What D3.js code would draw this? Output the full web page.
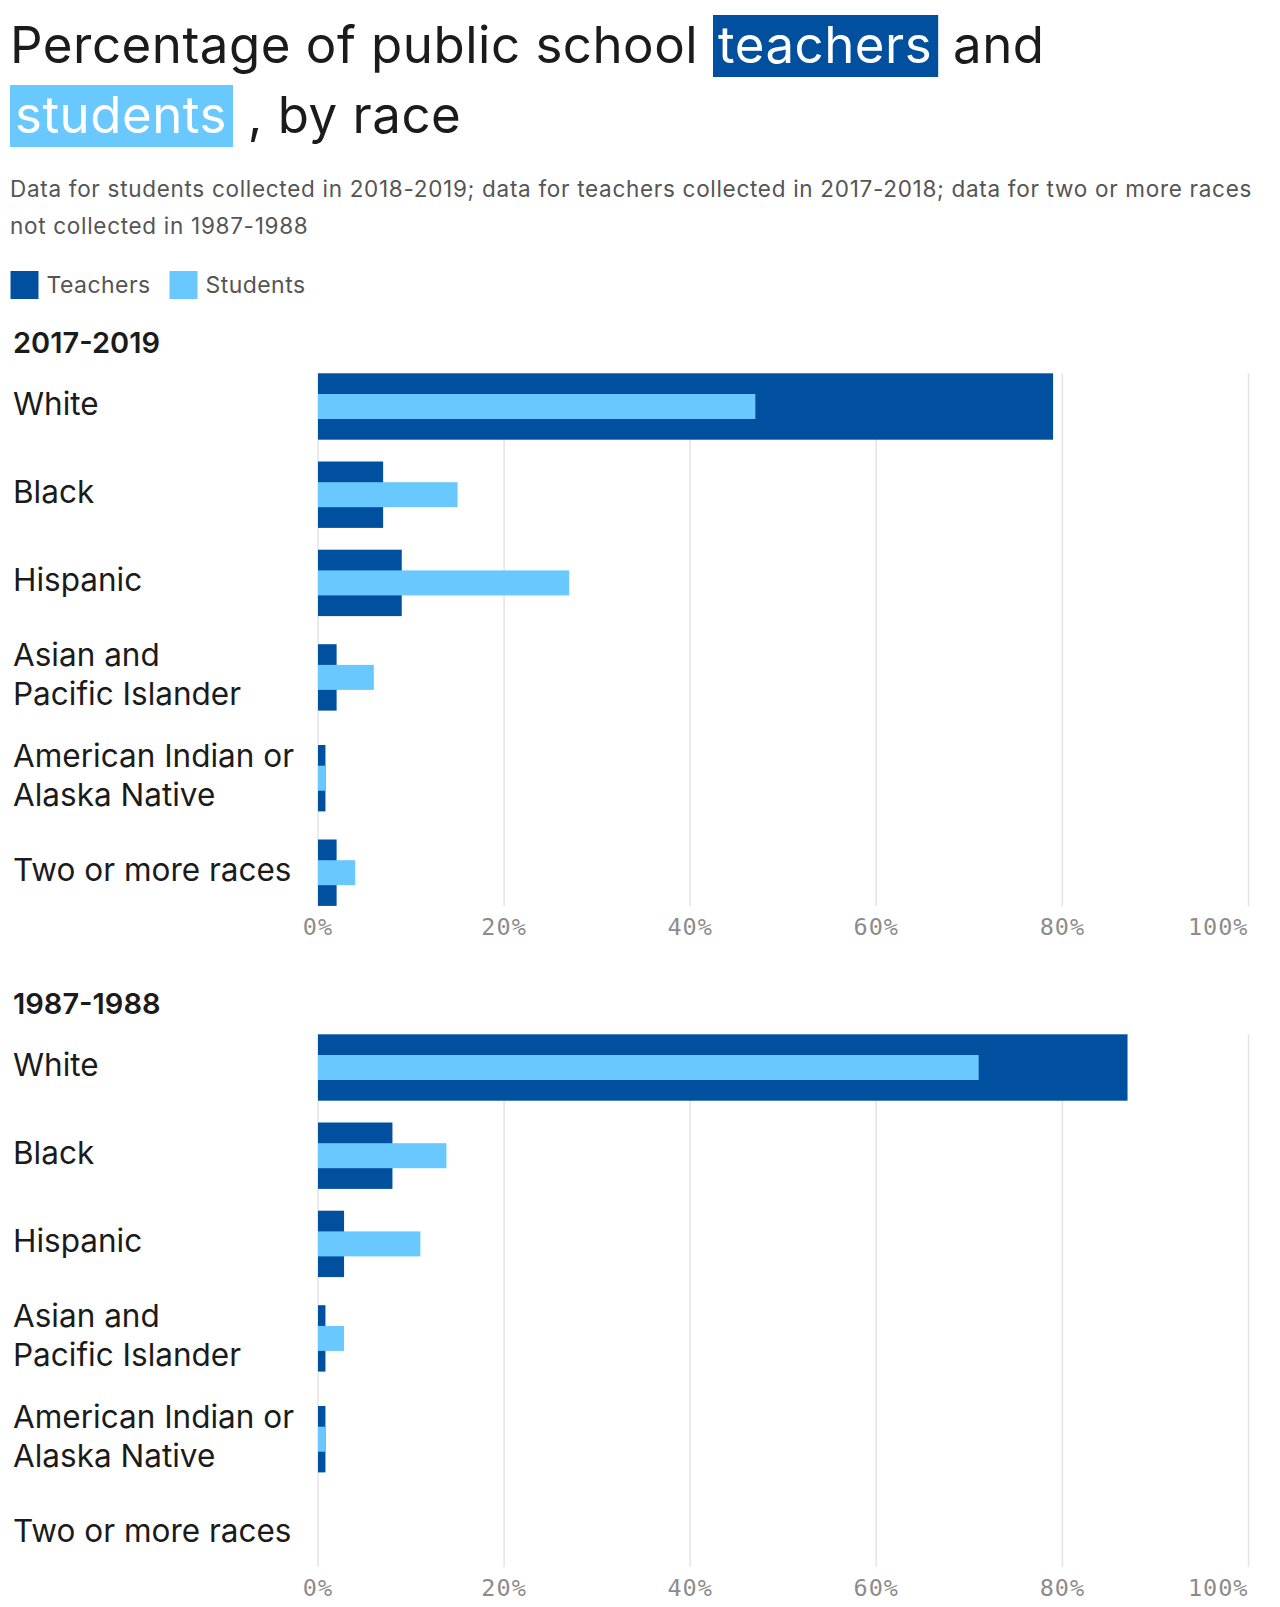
<!DOCTYPE html>
<html><head><meta charset="utf-8">
<script src="https://cdn.jsdelivr.net/npm/d3@7"></script>
<style>body{margin:0;background:#fff}</style>
</head><body><svg id="c" width="1280" height="1607"></svg>
<script>
// ---------- data ----------
const categories = ["White","Black","Hispanic","Asian and Pacific Islander","American Indian or Alaska Native","Two or more races"];
const labelLines = [["White"],["Black"],["Hispanic"],["Asian and","Pacific Islander"],["American Indian or","Alaska Native"],["Two or more races"]];
const panelTitles = ["2017-2019","1987-1988"];
const teachers2017 = [79, 7, 9, 2, 0.8, 2];
const students2018 = [47, 15, 27, 6, 0.8, 4];
const teachers1987 = [87, 8, 2.8, 0.8, 0.8, null];
const students1987 = [71, 13.8, 11, 2.8, 0.8, null];
const tickValues = [0, 20, 40, 60, 80, 100];
const seriesNames = ["Teachers","Students"];
const titleLine1 = ["Percentage of public school ", "teachers", " and"];
const titleLine2 = ["students", " , by race"];
const subtitleLines = ["Data for students collected in 2018-2019; data for teachers collected in 2017-2018; data for two or more races","not collected in 1987-1988"];

// ---------- style ----------
const FONT = "Inter, 'Noto Sans', sans-serif";
const MONO = "'DejaVu Sans Mono', monospace";
const color = d3.scaleOrdinal().domain(seriesNames).range(["#0150a0","#69c8fd"]);
const svg = d3.select("#c");

// ---------- title ----------
function titleLine(y, parts, hl) {
  let x = 10;
  parts.forEach((p, i) => {
    const isHL = hl[i];
    const padL = 5, padR = 6;
    if (isHL) x += padL;
    const t = svg.append("text").attr("x", x).attr("y", y)
      .attr("font-family", FONT).attr("font-size", 51).attr("font-weight", 400)
      .attr("letter-spacing", 0.5)
      .attr("fill", isHL ? "#fff" : "#1b1b1b").style("white-space","pre").text(p);
    const w = t.node().getComputedTextLength();
    if (isHL) {
      svg.insert("rect", () => t.node())
        .attr("x", x - padL).attr("y", y - 48).attr("width", w + padL + padR).attr("height", 62)
        .attr("fill", color(isHL));
      x += w + padR;
    } else x += w;
  });
}
titleLine(63, titleLine1, [null, "Teachers", null]);
titleLine(133, titleLine2, ["Students", null]);

subtitleLines.forEach((s, i) => {
  svg.append("text").attr("x", 10).attr("y", 197 + i * 37)
    .attr("font-family", FONT).attr("font-size", 22.5).attr("letter-spacing", 0.7)
    .attr("fill", "#555").text(s);
});

// ---------- legend ----------
const legX = d3.scaleOrdinal().domain(seriesNames).range([10.5, 169.5]);
const leg = svg.selectAll("g.leg").data(seriesNames).join("g").attr("class","leg")
  .attr("transform", d => `translate(${legX(d)},271)`);
leg.append("rect").attr("width", 28).attr("height", 28).attr("fill", d => color(d));
leg.append("text").attr("x", 36).attr("y", 22).attr("font-family", FONT)
  .attr("font-size", 23).attr("letter-spacing", 0.45).attr("fill", "#555").text(d => d);

// ---------- panels ----------
const x = d3.scaleLinear().domain([0, 100]).range([318, 1248.5]);
const barH = 66.4, studH = 25, lineH = 39, gap = 21.8;

function panel(y0, title, teach, stud) {
  const tops = [];
  let cur = y0;
  labelLines.forEach(lines => {
    const lh = lines.length > 1 ? lines.length * lineH + 1 : 0;
    const rowH = Math.max(barH, lh);
    tops.push(cur + (rowH - barH) / 2);
    cur += rowH + gap;
  });
  const y = d3.scaleOrdinal().domain(categories).range(tops);
  const bottom = y0 + 532.7;

  const g = svg.append("g");
  g.append("text").attr("x", 13).attr("y", y0 - 20).attr("font-family", FONT)
    .attr("font-size", 29).attr("font-weight", 600).attr("fill", "#1b1b1b").text(title);

  g.selectAll("line.grid").data(tickValues).join("line").attr("class","grid")
    .attr("x1", d => x(d)).attr("x2", d => x(d)).attr("y1", y0).attr("y2", bottom)
    .attr("stroke", "#e3e3e8").attr("stroke-width", 1.5);

  g.selectAll("text.tick").data(tickValues).join("text").attr("class","tick")
    .attr("x", d => x(d)).attr("y", bottom + 29)
    .attr("text-anchor", (d, i) => i === tickValues.length - 1 ? "end" : "middle")
    .attr("font-family", MONO).attr("font-size", 23.5).attr("letter-spacing", 1)
    .attr("fill", "#8c8c8c").text(d => d + "%");

  const rows = categories.map((c, i) => ({c, lines: labelLines[i], t: teach[i], s: stud[i]}));

  rows.forEach(r => {
    const cy = y(r.c) + barH / 2;
    r.lines.forEach((ln, j) => {
      g.append("text").attr("x", 13)
        .attr("y", cy + 8 + (j - (r.lines.length - 1) / 2) * lineH)
        .attr("font-family", FONT).attr("font-size", 31.5).attr("fill", "#1b1b1b").text(ln);
    });
  });

  const valid = rows.filter(r => r.t != null);
  g.selectAll("rect.t").data(valid).join("rect").attr("class","t")
    .attr("x", x(0)).attr("y", d => y(d.c)).attr("height", barH)
    .attr("width", d => x(d.t) - x(0)).attr("fill", color("Teachers"));
  g.selectAll("rect.s").data(valid).join("rect").attr("class","s")
    .attr("x", x(0)).attr("y", d => y(d.c) + (barH - studH) / 2).attr("height", studH)
    .attr("width", d => x(d.s) - x(0)).attr("fill", color("Students"));
}

panel(373.3, panelTitles[0], teachers2017, students2018);
panel(1034.3, panelTitles[1], teachers1987, students1987);
</script></body></html>
